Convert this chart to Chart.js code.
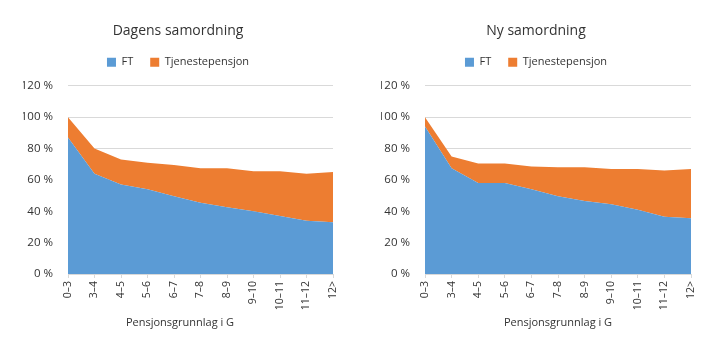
<!DOCTYPE html>
<html lang="no">
<head>
<meta charset="utf-8">
<title>Samordning</title>
<script src="https://cdn.jsdelivr.net/npm/chart.js@4.4.1/dist/chart.umd.min.js"></script>
<style>
  html, body { margin: 0; padding: 0; background: #fff; }
  .wrap { position: relative; width: 720px; height: 341px; overflow: hidden; }
  .panel { position: absolute; top: 0; width: 360px; height: 341px; }
  #dagens-panel { left: 0; }
  #ny-panel { left: 360px; }
</style>
</head>
<body>
<div class="wrap">
  <div class="panel" id="dagens-panel"><canvas id="chartDagens" width="360" height="341"></canvas></div>
  <div class="panel" id="ny-panel"><canvas id="chartNy" width="360" height="341"></canvas></div>
</div>
<script>
// Pensjonsgrunnlag i G, andel av tidligere inntekt (%)
const kategorier = ['0–3', '3–4', '4–5', '5–6', '6–7', '7–8', '8–9', '9–10', '10–11', '11–12', '12>'];

const ftDagens = [87, 64, 57, 54, 49.5, 45.5, 42.5, 40, 37, 34, 33];
const tpDagens = [13, 16, 16, 17, 20, 22, 25, 25.5, 28.5, 30, 32];

const ftNy = [94, 67.5, 58, 58, 54, 49.5, 46.5, 44.5, 41, 36.5, 35.5];
const tpNy = [6, 7.5, 12.5, 12.5, 14.5, 18.5, 21.5, 22.5, 26, 29.5, 31.5];

const BLAA = '#5b9bd5';
const ORANSJE = '#ed7d31';
const TEKST = '#333333';
const GRID = '#d9d9d9';
const FONT = "'Open Sans', sans-serif";

Chart.defaults.font.family = FONT;
Chart.defaults.color = TEKST;

// Aksetittel under x-aksen, med egen midtposisjon
const aksetittel = {
    id: 'aksetittel',
    afterDraw(chart, args, opts) {
        const ctx = chart.ctx;
        ctx.save();
        ctx.font = `11px ${FONT}`;
        ctx.fillStyle = TEKST;
        ctx.textAlign = 'center';
        ctx.textBaseline = 'middle';
        ctx.fillText(opts.text, opts.x, opts.y);
        ctx.restore();
    },
};

function samordningChart(id, tittel, ft, tp, o) {
    new Chart(document.getElementById(id), {
        type: 'line',
        data: {
            labels: kategorier,
            datasets: [
                { label: 'FT', data: ft, backgroundColor: BLAA, borderColor: BLAA, borderWidth: 0, pointRadius: 0, fill: 'origin' },
                { label: 'Tjenestepensjon', data: tp, backgroundColor: ORANSJE, borderColor: ORANSJE, borderWidth: 0, pointRadius: 0, fill: '-1' },
            ],
        },
        plugins: [aksetittel],
        options: {
            responsive: false,
            animation: false,
            layout: { padding: { left: o.venstrePad, right: o.hoyre, top: 0, bottom: 8 } },
            plugins: {
                title: { display: true, text: tittel, font: { size: 14, weight: 'normal' }, color: TEKST, padding: { top: 23, bottom: 0 } },
                // tom undertittel under forklaringen, gir luft ned til plottet
                subtitle: { display: true, text: '', weight: 500, font: { size: 1, lineHeight: 1 }, padding: { top: 7, bottom: 0 } },
                legend: {
                    labels: { boxWidth: 9, boxHeight: 9, padding: 17, font: { size: 11 }, color: TEKST },
                },
                tooltip: { enabled: false },
                aksetittel: { text: 'Pensjonsgrunnlag i G', x: o.titX, y: 323 },
            },
            scales: {
                x: {
                    offset: false,
                    grid: { display: true, drawOnChartArea: false, drawTicks: true, tickLength: 4, color: GRID },
                    border: { display: true, color: GRID },
                    ticks: { minRotation: 90, maxRotation: 90, autoSkip: false, padding: 3, font: { size: 10.5 }, color: TEKST },
                    afterFit: (s) => { s.height = 59; },
                },
                y: {
                    stacked: true,
                    min: 0,
                    max: 120,
                    grid: { color: GRID, drawTicks: false },
                    border: { display: false },
                    ticks: { stepSize: 20, padding: 15, font: { size: 11.5 }, color: TEKST, callback: (v) => `${v} %` },
                    afterFit: (s) => { s.width = o.yBredde; },
                },
            },
        },
    });
}

samordningChart('chartDagens', 'Dagens samordning', ftDagens, tpDagens, { venstrePad: 23, yBredde: 45, hoyre: 27, titX: 180 });
samordningChart('chartNy', 'Ny samordning', ftNy, tpNy, { venstrePad: 21, yBredde: 44, hoyre: 29, titX: 198 });
</script>
</body>
</html>
